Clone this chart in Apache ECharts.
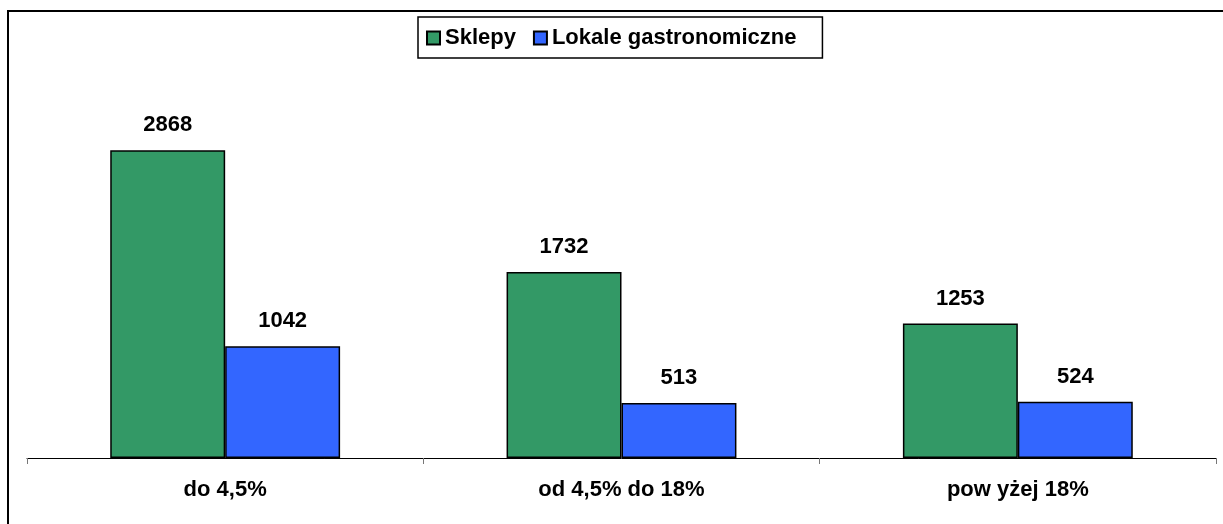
<!DOCTYPE html>
<html>
<head>
<meta charset="utf-8">
<script src="https://cdn.jsdelivr.net/npm/echarts@6/dist/echarts.min.js"></script>
<style>
  html, body { margin: 0; padding: 0; background: #fff; overflow: hidden; }
  #frame {
    position: absolute; left: 7px; top: 10px;
    width: 1240px; height: 540px;
    border: 2px solid #000; box-sizing: border-box;
  }
  #chart { position: absolute; left: 0; top: 0; width: 1223px; height: 524px; }
</style>
</head>
<body>
<div id="frame"></div>
<div id="chart"></div>
<script>
const categories = ['do 4,5%', 'od 4,5% do 18%', 'pow yżej 18%'];
const sklepy = [2868, 1732, 1253];
const lokale = [1042, 513, 524];

const font = "'Liberation Sans', Arial, sans-serif";
const myChart = echarts.init(document.getElementById('chart'));

myChart.setOption({
  animation: false,
  legend: {
    left: 418,
    top: 17,
    padding: [10, 26, 9, 8],
    itemWidth: 13,
    itemHeight: 13,
    itemGap: 17,
    icon: 'rect',
    borderColor: '#000',
    borderWidth: 1.5,
    backgroundColor: '#fff',
    textStyle: { fontFamily: font, fontSize: 22, fontWeight: 'bold', color: '#000' },
    data: ['Sklepy', 'Lokale gastronomiczne']
  },
  grid: { left: 27, right: 7, top: 136, bottom: 66 },
  xAxis: {
    type: 'category',
    data: categories,
    axisLine: { lineStyle: { color: '#000', width: 1 } },
    axisTick: { show: true, length: 6, lineStyle: { color: '#777' } },
    axisLabel: { margin: 21, fontFamily: font, fontSize: 22, fontWeight: 'bold', color: '#000' }
  },
  yAxis: {
    type: 'value',
    min: 0,
    max: 3000,
    show: false,
    splitLine: { show: false }
  },
  series: [
    {
      name: 'Sklepy',
      type: 'bar',
      data: sklepy,
      barGap: '0%',
      barCategoryGap: '42%',
      itemStyle: { color: '#339966', borderColor: '#000', borderWidth: 1.5 },
      label: { show: true, position: 'top', distance: 14, fontFamily: font, fontSize: 22, fontWeight: 'bold', color: '#000' }
    },
    {
      name: 'Lokale gastronomiczne',
      type: 'bar',
      data: lokale,
      itemStyle: { color: '#3366FF', borderColor: '#000', borderWidth: 1.5 },
      label: { show: true, position: 'top', distance: 14, fontFamily: font, fontSize: 22, fontWeight: 'bold', color: '#000' }
    }
  ]
});
</script>
</body>
</html>
